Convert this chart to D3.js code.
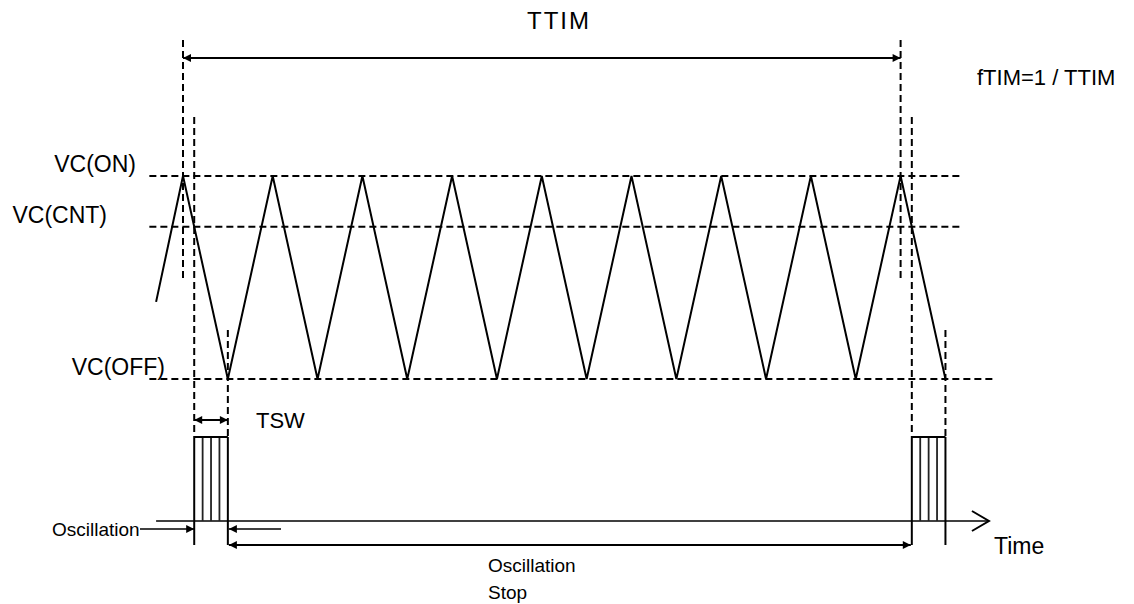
<!DOCTYPE html>
<html>
<head>
<meta charset="utf-8">
<script src="https://d3js.org/d3.v7.min.js"></script>
<style>
  body { margin: 0; background: #fff; }
  svg text { font-family: "Liberation Sans", Arial, sans-serif; fill: #000; }
</style>
</head>
<body>
<svg id="chart"></svg>
<script>
// triangle wave: time in half-periods, level 0 = VC(OFF), 1 = VC(ON)
var waveT = [-0.6, 0, 1, 2, 3, 4, 5, 6, 7, 8, 9, 10, 11, 12, 13, 14, 15, 16, 17];
var waveV = [0.38, 1, 0, 1, 0, 1, 0, 1, 0, 1, 0, 1, 0, 1, 0, 1, 0, 1, 0];

// threshold levels
var levelNames = ['VC(ON)', 'VC(CNT)', 'VC(OFF)'];
var levelValues = [1, 0.75, 0];
var levelEnds = [17.37, 17.37, 18.1];

// oscillation bursts (start, end) and timer marks
var burstStart = [0.25, 16.25];
var burstEnd = [1, 17];
var timerMarks = [0, 16];

var width = 1134, height = 604;
var svg = d3.select('#chart').attr('width', width).attr('height', height);

var x = d3.scaleLinear().domain([0, 16]).range([183, 900.6]);
var y = d3.scaleLinear().domain([0, 1]).range([379, 176]);
var yOsc = d3.scaleLinear().domain([0, 1]).range([521, 437]);

// arrow markers
var defs = svg.append('defs');
defs.append('marker').attr('id', 'ahEnd')
    .attr('viewBox', '0 0 10 10').attr('refX', 10).attr('refY', 5)
    .attr('markerWidth', 10).attr('markerHeight', 8).attr('markerUnits', 'userSpaceOnUse')
    .attr('orient', 'auto')
  .append('path').attr('d', 'M0,0 L10,5 L0,10 Z').attr('fill', '#000');
defs.append('marker').attr('id', 'ahStart')
    .attr('viewBox', '0 0 10 10').attr('refX', 0).attr('refY', 5)
    .attr('markerWidth', 10).attr('markerHeight', 8).attr('markerUnits', 'userSpaceOnUse')
    .attr('orient', 'auto')
  .append('path').attr('d', 'M10,0 L0,5 L10,10 Z').attr('fill', '#000');

var dash = '7,4';

// threshold dashed lines + labels
var levelLabelX = [136, 107, 165];
levelNames.forEach(function (name, i) {
    svg.append('line')
        .attr('x1', x(-0.75)).attr('x2', x(levelEnds[i]))
        .attr('y1', y(levelValues[i])).attr('y2', y(levelValues[i]))
        .attr('stroke', '#000').attr('stroke-width', 2).attr('stroke-dasharray', dash);
    svg.append('text')
        .attr('x', levelLabelX[i]).attr('y', y(levelValues[i]) - 4)
        .attr('text-anchor', 'end').style('font-size', '23px')
        .text(name);
});

// vertical dashed guides
timerMarks.forEach(function (t) {
    svg.append('line').attr('x1', x(t)).attr('x2', x(t)).attr('y1', 40).attr('y2', 280)
        .attr('stroke', '#000').attr('stroke-width', 2).attr('stroke-dasharray', dash);
});
burstStart.forEach(function (t) {
    svg.append('line').attr('x1', x(t)).attr('x2', x(t)).attr('y1', 117).attr('y2', yOsc(1))
        .attr('stroke', '#000').attr('stroke-width', 2).attr('stroke-dasharray', dash);
});
burstEnd.forEach(function (t) {
    svg.append('line').attr('x1', x(t)).attr('x2', x(t)).attr('y1', 330).attr('y2', yOsc(1))
        .attr('stroke', '#000').attr('stroke-width', 2).attr('stroke-dasharray', dash);
});

// triangle wave
var wave = waveT.map(function (t, i) { return [t, waveV[i]]; });
svg.append('path')
    .datum(wave)
    .attr('d', d3.line().x(function (d) { return x(d[0]); }).y(function (d) { return y(d[1]); }))
    .attr('fill', 'none').attr('stroke', '#000').attr('stroke-width', 2).attr('stroke-linejoin', 'miter');

// time axis
svg.append('line').attr('x1', x(-0.6)).attr('x2', x(17.97)).attr('y1', yOsc(0)).attr('y2', yOsc(0))
    .attr('stroke', '#000').attr('stroke-width', 1.5);
svg.append('path')
    .attr('d', 'M' + (x(17.97) - 17) + ',' + (yOsc(0) - 10) + 'L' + x(17.97) + ',' + yOsc(0) +
               'L' + (x(17.97) - 17) + ',' + (yOsc(0) + 10))
    .attr('fill', 'none').attr('stroke', '#000').attr('stroke-width', 2);

// oscillation bursts
burstStart.forEach(function (t0, i) {
    var t1 = burstEnd[i];
    var g = svg.append('g');
    d3.range(1, 4).forEach(function (k) {
        var tk = t0 + (t1 - t0) * k / 4;
        g.append('line').attr('x1', x(tk)).attr('x2', x(tk))
            .attr('y1', yOsc(1)).attr('y2', yOsc(0))
            .attr('stroke', '#222').attr('stroke-width', 1.8);
    });
    g.append('line').attr('x1', x(t0)).attr('x2', x(t1)).attr('y1', yOsc(1)).attr('y2', yOsc(1))
        .attr('stroke', '#000').attr('stroke-width', 2);
    [t0, t1].forEach(function (tt) {
        g.append('line').attr('x1', x(tt)).attr('x2', x(tt))
            .attr('y1', yOsc(1)).attr('y2', 545)
            .attr('stroke', '#000').attr('stroke-width', 2);
    });
});

// TTIM arrow
svg.append('line').attr('x1', x(0)).attr('x2', x(16)).attr('y1', 58).attr('y2', 58)
    .attr('stroke', '#000').attr('stroke-width', 2)
    .attr('marker-start', 'url(#ahStart)').attr('marker-end', 'url(#ahEnd)');
svg.append('text').attr('x', 559).attr('y', 29).attr('text-anchor', 'middle')
    .style('font-size', '24px').style('letter-spacing', '2px').text('TTIM');
svg.append('text').attr('x', 977).attr('y', 85)
    .style('font-size', '22px').text('fTIM=1 / TTIM');

// TSW arrow
svg.append('line').attr('x1', x(burstStart[0])).attr('x2', x(burstEnd[0])).attr('y1', 420).attr('y2', 420)
    .attr('stroke', '#000').attr('stroke-width', 2)
    .attr('marker-start', 'url(#ahStart)').attr('marker-end', 'url(#ahEnd)');
svg.append('text').attr('x', 256).attr('y', 428).style('font-size', '22px').text('TSW');

// oscillation pointers
svg.append('line').attr('x1', 140).attr('x2', x(burstStart[0])).attr('y1', 529).attr('y2', 529)
    .attr('stroke', '#000').attr('stroke-width', 1.5).attr('marker-end', 'url(#ahEnd)');
svg.append('line').attr('x1', 281).attr('x2', x(burstEnd[0]) + 1).attr('y1', 529).attr('y2', 529)
    .attr('stroke', '#000').attr('stroke-width', 1.5).attr('marker-end', 'url(#ahEnd)');
svg.append('text').attr('x', 52).attr('y', 536).style('font-size', '19px').text('Oscillation');

// oscillation stop arrow
svg.append('line').attr('x1', x(burstEnd[0]) + 1).attr('x2', x(burstStart[1]) - 1).attr('y1', 545).attr('y2', 545)
    .attr('stroke', '#000').attr('stroke-width', 2)
    .attr('marker-start', 'url(#ahStart)').attr('marker-end', 'url(#ahEnd)');
svg.append('text').attr('x', 488).attr('y', 572).style('font-size', '19px').text('Oscillation');
svg.append('text').attr('x', 488).attr('y', 599).style('font-size', '19px').text('Stop');

svg.append('text').attr('x', 994).attr('y', 554).style('font-size', '23px').text('Time');
</script>
</body>
</html>
